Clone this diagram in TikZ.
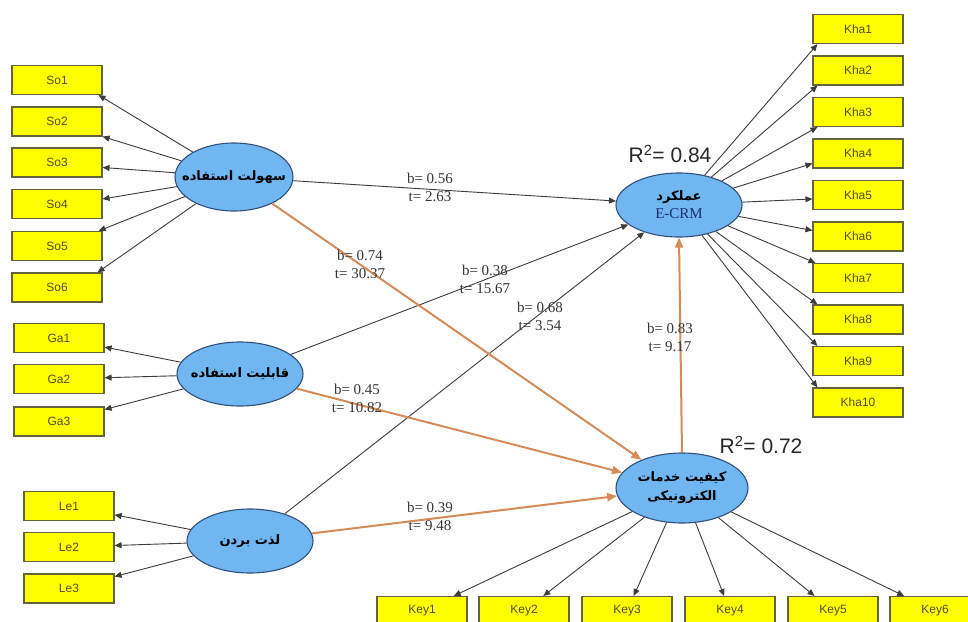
\documentclass[tikz,border=0pt]{standalone}
\usepackage{fontspec}
\setmainfont{Liberation Serif}
\newfontfamily\fa[Script=Arabic]{DejaVu Sans}
\newfontfamily\arial{Liberation Sans}
\TeXXeTstate=1
\usetikzlibrary{shapes.geometric,arrows.meta}
\definecolor{boxfill}{RGB}{255,255,0}
\definecolor{boxline}{RGB}{100,100,60}
\definecolor{boxtext}{RGB}{80,80,40}
\definecolor{ellfill}{RGB}{112,182,240}
\definecolor{ellblue}{RGB}{50,80,125}
\definecolor{lineg}{RGB}{60,60,60}
\definecolor{orng}{RGB}{214,140,88}
\definecolor{coefc}{RGB}{55,55,55}
\definecolor{rsqc}{RGB}{40,40,40}
\definecolor{navy}{RGB}{30,45,110}
\begin{document}
\begin{tikzpicture}[x=1pt,y=-1pt,
  ind/.style={draw=boxline,fill=boxfill,line width=1.1pt,minimum width=90pt,minimum height=29pt,inner sep=0pt,font=\arial\fontsize{12}{14}\selectfont,text=boxtext},
  lat/.style={ellipse,draw=ellblue,fill=ellfill,line width=1.1pt,inner sep=0pt},
  ldg/.style={draw=lineg,line width=0.9pt,-{Triangle[length=7pt,width=6pt]}},
  pth/.style={draw=orng,line width=2pt,-{Triangle[length=10pt,width=8pt]}},
  coef/.style={font=\fontsize{15}{18}\selectfont,text=coefc,align=center,inner sep=0pt},
  rsq/.style={font=\arial\fontsize{21}{24}\selectfont,text=rsqc,inner sep=0pt},
  ptxt/.style={font=\fa\bfseries\fontsize{13}{19}\selectfont,text=black,align=center,inner sep=0pt}]

\path[use as bounding box,fill=white] (0,0) rectangle (968,621);

% latent variables
\node[lat,minimum width=118pt,minimum height=68pt] (so) at (234,177) {};
\node[ptxt] (sotxt) at (so) {\beginR سهولت استفاده\endR};
\node[lat,minimum width=126pt,minimum height=64pt] (ga) at (240,374) {};
\node[ptxt] (gatxt) at (ga) {\beginR قابلیت استفاده\endR};
\node[lat,minimum width=126pt,minimum height=64pt] (le) at (250,541) {};
\node[ptxt] (letxt) at (le) {\beginR لذت بردن\endR};
\node[lat,minimum width=126pt,minimum height=64pt] (ecrm) at (679,205) {};
\node[ptxt] (ecrmtxt) at ([yshift=8pt]ecrm.center) {\beginR عملکرد\endR};
\node[font=\fontsize{15}{18}\selectfont,text=navy,inner sep=0pt] (ecrmtxt2) at ([yshift=-9pt]ecrm.center) {E-CRM};
\node[lat,minimum width=132pt,minimum height=70pt] (kelly) at (682,488) {};
\node[ptxt] (kellytxt) at (kelly) {\beginR کیفیت خدمات\endR\\\beginR الکترونیکی\endR};

% R2
\node[rsq] (r1) at (670,154) {R\textsuperscript{2}= 0.84};
\node[rsq] (r2) at (761,445) {R\textsuperscript{2}= 0.72};

% indicators left
\foreach \i/\y in {1/80,2/121.5,3/162.5,4/204,5/246,6/287.5}
  \node[ind] (so\i) at (57,\y) {So\i};
\foreach \i/\y in {1/338,2/379,3/421.5}
  \node[ind] (ga\i) at (59,\y) {Ga\i};
\foreach \i/\y in {1/506,2/547,3/588.5}
  \node[ind] (le\i) at (69,\y) {Le\i};
% indicators right
\foreach \i/\y in {1/29,2/70.5,3/112,4/153.5,5/195,6/236.5,7/278,8/319.5,9/361,10/402.5}
  \node[ind] (kha\i) at (858,\y) {Kha\i};
% indicators bottom
\foreach \i/\x in {1/422,2/524,3/627,4/730,5/833,6/935}
  \node[ind] (key\i) at (\x,611) {Key\i};

% loadings
\draw[ldg] (so) -- ([xshift=-4pt]so1.south east);
\draw[ldg] (so) -- (so2.south east);
\draw[ldg] (so) -- ([yshift=-5pt]so3.east);
\draw[ldg] (so) -- ([yshift=5pt]so4.east);
\draw[ldg] (so) -- ([xshift=-4pt]so5.north east);
\draw[ldg] (so) -- ([xshift=-5pt]so6.north east);
\foreach \i in {1,2,3} \draw[ldg] (ga) -- (ga\i);
\foreach \i in {1,2,3} \draw[ldg] (le) -- (le\i);
\foreach \i in {1,2,3} \draw[ldg] (ecrm) -- ([xshift=5pt]kha\i.south west);
\draw[ldg] (ecrm) -- ([yshift=-10pt]kha4.west);
\draw[ldg] (ecrm) -- ([yshift=-4pt]kha5.west);
\draw[ldg] (ecrm) -- ([yshift=6pt]kha6.west);
\draw[ldg] (ecrm) -- ([xshift=3pt]kha7.north west);
\foreach \i in {8,9,10} \draw[ldg] (ecrm) -- ([xshift=5pt]kha\i.north west);
\foreach \i in {1,...,6} \draw[ldg] (kelly) -- (key\i);

% structural paths
\draw[ldg] (so) -- (ecrm);
\draw[ldg] (ga) -- (ecrm);
\draw[ldg] (le) -- (ecrm);
\draw[pth] (so) -- (kelly);
\draw[pth] (ga) -- (kelly);
\draw[pth] (le) -- (kelly);
\draw[pth] (kelly.north) -- (ecrm.south);

% coefficients
\node[coef] (c1) at (430,187) {b= 0.56\\t= 2.63};
\node[coef] (c2) at (360,264) {b= 0.74\\t= 30.37};
\node[coef] (c3) at (485,279) {b= 0.38\\t= 15.67};
\node[coef] (c4) at (540,316) {b= 0.68\\t= 3.54};
\node[coef] (c5) at (357,398) {b= 0.45\\t= 10.82};
\node[coef] (c6) at (430,516) {b= 0.39\\t= 9.48};
\node[coef] (c7) at (670,337) {b= 0.83\\t= 9.17};
\end{tikzpicture}
\end{document}
